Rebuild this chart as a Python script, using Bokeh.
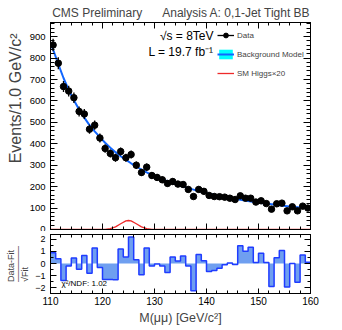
import math
from bokeh.plotting import figure
from bokeh.models import (Range1d, LinearAxis, Label, Legend, LegendItem, Title,
                          SingleIntervalTicker, ColumnDataSource, CustomJSTickFormatter)
from bokeh.layouts import column
from bokeh.embed import file_html
from bokeh.resources import INLINE

FONT = "Liberation Sans"

# ---------------- data ----------------
mass = [110.5, 111.5, 112.5, 113.5, 114.5, 115.5, 116.5, 117.5, 118.5, 119.5,
        120.5, 121.5, 122.5, 123.5, 124.5, 125.5, 126.5, 127.5, 128.5, 129.5,
        130.5, 131.5, 132.5, 133.5, 134.5, 135.5, 136.5, 137.5, 138.5, 139.5,
        140.5, 141.5, 142.5, 143.5, 144.5, 145.5, 146.5, 147.5, 148.5, 149.5,
        150.5, 151.5, 152.5, 153.5, 154.5, 155.5, 156.5, 157.5, 158.5, 159.5]
counts = [861, 776, 667, 646, 615, 551, 539, 468, 487, 427,
          378, 355, 335, 364, 335, 350, 300, 266, 291, 252,
          243, 232, 215, 224, 212, 210, 187, 154, 187, 178,
          159, 154, 153, 151, 146, 140, 157, 146, 146, 128,
          134, 121, 95, 120, 123, 87, 106, 87, 109, 100]

fit_mass = [110.0, 110.5, 111.5, 112.5, 113.5, 114.5, 115.5, 116.5, 117.5, 118.5, 119.5,
            120.5, 121.5, 122.5, 123.5, 124.5, 125.5, 126.5, 127.5, 128.5, 129.5,
            130.5, 131.5, 132.5, 133.5, 134.5, 135.5, 136.5, 137.5, 138.5, 139.5,
            140.5, 141.5, 142.5, 143.5, 144.5, 145.5, 146.5, 147.5, 148.5, 149.5,
            150.5, 151.5, 152.5, 153.5, 154.5, 155.5, 156.5, 157.5, 158.5, 159.5, 160.0]
fit_vals = [870, 840, 772, 707, 651, 603, 560, 522, 487, 458, 431,
            405, 382, 361, 342, 325, 309, 294, 280, 267, 255,
            244, 234, 225, 216, 208, 200, 193, 186, 179, 173,
            167, 162, 157, 152, 147, 143, 139, 135, 131, 127,
            124, 121, 118, 115, 112, 109, 106, 104, 101, 99, 98]

sig_mass = [110.0, 119.5, 120.5, 121.5, 122.5, 123.5, 124.5, 125.0,
            125.5, 126.5, 127.5, 128.5, 129.5, 130.5, 160.0]
sig_vals = [0, 0.2, 0.8, 3.8, 12.4, 27, 40, 42, 40, 27, 12.4, 3.8, 0.8, 0.2, 0]

bin_edges = [110, 111, 112, 113, 114, 115, 116, 117, 118, 119, 120,
             121, 122, 123, 124, 125, 126, 127, 128, 129, 130,
             131, 132, 133, 134, 135, 136, 137, 138, 139, 140,
             141, 142, 143, 144, 145, 146, 147, 148, 149, 150,
             151, 152, 153, 154, 155, 156, 157, 158, 159, 160]
pulls = [0.9, 0.4, -1.4, -0.2, 0.45, -0.48, 0.67, -0.8, 1.28, -0.32,
         -1.33, -1.33, -1.35, 1.2, 0.53, 2.2, 0.32, -0.93, 1.28, -0.21,
         -0.05, -0.2, -0.75, 0.53, 0.2, 0.62, -0.2, -2.25, 0.75, 0.22,
         -0.65, -0.58, -0.4, -0.1, 0.05, -0.08, 1.47, 1.02, 1.35, 0.08,
         0.84, 0.08, -1.9, 0.48, 1.08, -1.95, 0.0, -1.55, 0.7, 0.1]

# ---------------- helpers ----------------
def style_axis(ax, major_in, minor_in, show_labels, fs="10px"):
    ax.major_tick_in = major_in
    ax.major_tick_out = 0
    ax.minor_tick_in = minor_in
    ax.minor_tick_out = 0
    ax.axis_line_color = "black"
    ax.major_tick_line_color = "black"
    ax.minor_tick_line_color = "black"
    ax.major_label_text_font = FONT
    ax.major_label_text_color = "black"
    ax.major_label_text_font_size = fs
    if not show_labels:
        ax.formatter = CustomJSTickFormatter(code="return ''")
        ax.major_label_standoff = 0


def mirror(p, xt, yt, xmaj, xmin, ymaj, ymin):
    top = LinearAxis(ticker=xt)
    right = LinearAxis(ticker=yt)
    style_axis(top, xmaj, xmin, False)
    style_axis(right, ymaj, ymin, False)
    p.add_layout(top, "above")
    p.add_layout(right, "right")


def lab(p, x, y, text, size, align="left", baseline="middle", angle=0.0):
    p.add_layout(Label(x=x, y=y, x_units="screen", y_units="screen", text=text,
                       text_font=FONT, text_font_size=size, text_color="black",
                       text_align=align, text_baseline=baseline, angle=angle))

# ---------------- main panel ----------------
p1 = figure(width=326, height=231, x_range=Range1d(110, 160), y_range=Range1d(0, 966),
            output_backend="svg", toolbar_location=None,
            min_border_left=47, min_border_right=16, min_border_top=22, min_border_bottom=2)
p1.grid.visible = False
p1.outline_line_color = "black"
p1.outline_line_width = 1
p1.background_fill_color = "white"
p1.border_fill_color = "white"

xt1 = SingleIntervalTicker(interval=10, num_minor_ticks=5)
yt1 = SingleIntervalTicker(interval=100, num_minor_ticks=5)
p1.xaxis.ticker = xt1
p1.yaxis.ticker = yt1
style_axis(p1.xaxis[0], 6, 3, False)
style_axis(p1.yaxis[0], 7, 4, True, "9.5px")
mirror(p1, xt1, yt1, 6, 3, 7, 4)

src = ColumnDataSource(dict(
    x=mass, y=counts,
    lo=[c - math.sqrt(c) for c in counts],
    hi=[c + math.sqrt(c) for c in counts]))

band = p1.varea(x=fit_mass, y1=fit_vals, y2=fit_vals, fill_color="#00ffff")
fit_line = p1.line(fit_mass, fit_vals, line_color="#1166ff", line_width=2)
sig_line = p1.line(sig_mass, sig_vals, line_color="#ee2a2a", line_width=1.3)
err = p1.segment(x0="x", y0="lo", x1="x", y1="hi", source=src,
                 line_color="black", line_width=1.3)
pts = p1.scatter("x", "y", source=src, size=6.5, fill_color="black", line_color="black")

legend = Legend(items=[
    LegendItem(label="Data", renderers=[err, pts]),
    LegendItem(label="Background Model", renderers=[band, fit_line]),
    LegendItem(label="SM Higgs\u00d720", renderers=[sig_line]),
], location=(167, 150))
legend.border_line_color = None
legend.background_fill_alpha = 0
legend.padding = 0
legend.margin = 0
legend.spacing = 7
legend.glyph_height = 12
legend.glyph_width = 17
legend.label_height = 12
legend.label_standoff = 3
legend.label_text_font = FONT
legend.label_text_font_size = "8px"
p1.add_layout(legend, "center")

lab(p1, 163, 194, "\u221as = 8TeV", "12px", align="right")
lab(p1, 163, 178, "L = 19.7 fb\u207b\u00b9", "12px", align="right")

nb = "\u00a0" * 6
p1.add_layout(Title(text="CMS Preliminary" + nb + "Analysis A: 0,1-Jet Tight BB",
                    align="right", text_font=FONT, text_font_size="12px",
                    text_font_style="normal", standoff=5), "above")
p1.add_layout(Title(text="Events/1.0 GeV/c\u00b2", align="right", text_font=FONT,
                    text_font_size="16px", text_font_style="normal", standoff=6,
                    offset=11), "left")

# ---------------- pull panel ----------------
p2 = figure(width=326, height=96, x_range=p1.x_range, y_range=Range1d(-2.48, 2.4),
            output_backend="svg", toolbar_location=None,
            min_border_left=47, min_border_right=16, min_border_top=3, min_border_bottom=32)
p2.grid.visible = False
p2.outline_line_color = "black"
p2.outline_line_width = 1
p2.background_fill_color = "white"
p2.border_fill_color = "white"

xt2 = SingleIntervalTicker(interval=10, num_minor_ticks=5)
yt2 = SingleIntervalTicker(interval=1, num_minor_ticks=2)
p2.xaxis.ticker = xt2
p2.yaxis.ticker = yt2
style_axis(p2.xaxis[0], 5, 3, True, "10px")
p2.xaxis.major_label_standoff = 3
p2.xaxis.axis_label = "M(\u03bc\u03bc) [GeV/c\u00b2]"
p2.xaxis.axis_label_text_font = FONT
p2.xaxis.axis_label_text_font_size = "12.5px"
p2.xaxis.axis_label_text_font_style = "normal"
p2.xaxis.axis_label_standoff = 3
style_axis(p2.yaxis[0], 6, 3, True, "9px")
mirror(p2, xt2, yt2, 5, 3, 6, 3)

# filled step area between the pulls and zero, as one polygon
px = [bin_edges[0]]
py = [0]
for i, v in enumerate(pulls):
    px += [bin_edges[i], bin_edges[i + 1]]
    py += [v, v]
px.append(bin_edges[-1])
py.append(0)
p2.patch(px, py, fill_color="#6f9ff0", line_color=None)
p2.step(bin_edges, pulls + [pulls[-1]], mode="after", line_color="#1f3cff", line_width=1.5)

lab(p2, 11, 10, "\u03c7\u00b2/NDF: 1.02", "8px")

p2.add_layout(Title(text="Data-Fit\n\u2014\u2014\u2014\u2014\n\u221aFit", align="center",
                    text_font=FONT, text_font_size="9px", text_font_style="normal",
                    text_line_height=0.7, standoff=6), "left")

layout = column(p1, p2, spacing=0)
open("out.html", "w").write(file_html(layout, INLINE))
